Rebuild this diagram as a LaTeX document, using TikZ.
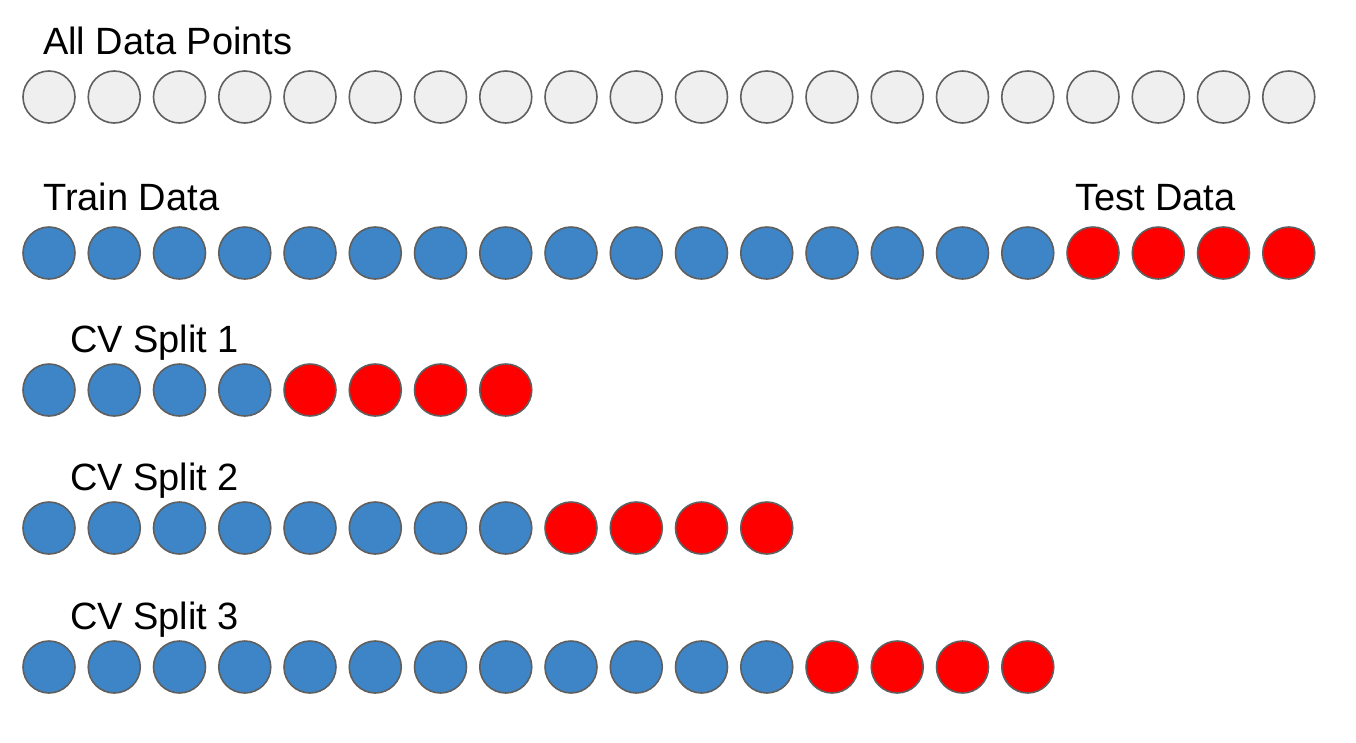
\documentclass[tikz,border=0pt]{standalone}
\usepackage{fontspec}
\setmainfont{Liberation Sans}
\usetikzlibrary{positioning}
\definecolor{ptgray}{RGB}{239,239,239}
\definecolor{ptblue}{RGB}{61,133,198}
\definecolor{ptred}{RGB}{255,0,0}
\definecolor{ptedge}{RGB}{95,95,95}
\tikzset{
  pt/.style={circle, draw=ptedge, line width=1.6pt, minimum size=52pt, inner sep=0pt},
  allpt/.style={pt, fill=ptgray},
  trainpt/.style={pt, fill=ptblue},
  testpt/.style={pt, fill=ptred},
  lbl/.style={anchor=base west, inner sep=0pt, font=\fontsize{38}{45}\selectfont}
}
\begin{document}
\begin{tikzpicture}[x=1pt, y=-1pt]
  \useasboundingbox (0,0) rectangle (1356,742);

  % All data points
  \node[lbl] (alllbl) at (43,54) {All Data Points};
  \foreach \i in {0,...,19} {
    \node[allpt] (a\i) at (49+65.25*\i, 97) {};
  }

  % Train / test split
  \node[lbl] (trainlbl) at (43,210) {Train Data};
  \node[lbl] (testlbl) at (1075,210) {Test Data};
  \foreach \i in {0,...,19} {
    \ifnum\i<16
      \node[trainpt] (t\i) at (49+65.25*\i, 253) {};
    \else
      \node[testpt] (t\i) at (49+65.25*\i, 253) {};
    \fi
  }

  % CV splits
  \foreach \k/\y/\n in {1/390/4, 2/528/8, 3/667/12} {
    \node[lbl] (cvlbl\k) at (70,\y-38) {CV Split \k};
    \foreach \i in {0,...,15} {
      \ifnum\i<\n
        \node[trainpt] (c\k-\i) at (49+65.25*\i, \y) {};
      \else
        \pgfmathtruncatemacro{\m}{\n+4}
        \ifnum\i<\m
          \node[testpt] (c\k-\i) at (49+65.25*\i, \y) {};
        \fi
      \fi
    }
  }
\end{tikzpicture}
\end{document}
